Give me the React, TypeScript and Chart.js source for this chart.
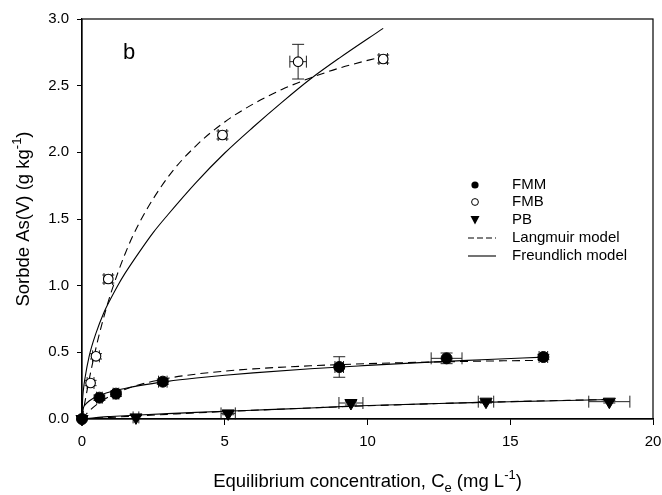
import React, { useEffect, useRef } from "react";
import { Chart, registerables } from "chart.js";
Chart.register(...registerables);

// ---- axis ticks ----
const xTickValues = [0, 5, 10, 15, 20];
const yTickValues = [0, 0.5, 1.0, 1.5, 2.0, 2.5, 3.0];

// ---- measured points ----
const fmmX = [0, 0.61, 1.19, 2.83, 9.01, 12.77, 16.16];
const fmmY = [0, 0.16, 0.19, 0.28, 0.39, 0.455, 0.465];
const fmmXErr = [0, 0.1, 0.1, 0.15, 0.15, 0.54, 0.15];
const fmmYErr = [0, 0.02, 0.02, 0.02, 0.077, 0.04, 0.02];

const fmbX = [0, 0.3, 0.49, 0.92, 4.92, 7.57, 10.55];
const fmbY = [0, 0.27, 0.47, 1.05, 2.13, 2.68, 2.7];
const fmbXErr = [0, 0.12, 0.12, 0.15, 0.15, 0.29, 0.15];
const fmbYErr = [0, 0.02, 0.02, 0.03, 0.03, 0.13, 0.03];

const pbX = [0, 1.89, 5.12, 9.42, 14.15, 18.47];
const pbY = [0, 0.012, 0.042, 0.12, 0.13, 0.13];
const pbXErr = [0, 0.1, 0.25, 0.42, 0.27, 0.72];
const pbYErr = [0, 0, 0.01, 0.015, 0.01, 0.01];

// ---- model curves ----
const fmbLangX = [0, 0.1, 0.25, 0.5, 0.75, 1, 1.5, 2, 3, 4, 5, 6, 7, 8, 9, 10.55];
const fmbLangY = [0, 0.124, 0.295, 0.543, 0.754, 0.936, 1.234, 1.468, 1.811, 2.051, 2.228, 2.363, 2.471, 2.558, 2.631, 2.72];
const fmbFreX = [0, 0.02, 0.05, 0.1, 0.25, 0.5, 0.75, 1, 1.25, 1.5, 2, 2.5, 3, 4, 5, 6, 7, 8, 9, 10.55];
const fmbFreY = [0, 0.14, 0.22, 0.3, 0.47, 0.65, 0.79, 0.9, 1.0, 1.09, 1.25, 1.4, 1.53, 1.775, 1.995, 2.19, 2.375, 2.55, 2.705, 2.93];

const fmmLangX = [0, 0.25, 0.5, 1, 1.5, 2, 3, 4, 5, 6, 8, 10, 12, 14, 16.2];
const fmmLangY = [0, 0.059, 0.106, 0.174, 0.222, 0.257, 0.305, 0.337, 0.359, 0.376, 0.399, 0.415, 0.426, 0.434, 0.44];
const fmmFreX = [0, 0.05, 0.1, 0.25, 0.5, 1, 1.5, 2, 3, 4, 5, 6, 8, 10, 12, 14, 16.2];
const fmmFreY = [0, 0.084, 0.103, 0.135, 0.166, 0.204, 0.229, 0.25, 0.282, 0.307, 0.328, 0.346, 0.377, 0.402, 0.425, 0.444, 0.464];

const pbLangX = [0, 0.5, 1, 2, 3, 4, 5, 6.5, 8, 9.5, 11, 12.5, 14, 15.5, 17, 18.5];
const pbLangY = [0, 0.006, 0.012, 0.024, 0.035, 0.046, 0.056, 0.07, 0.083, 0.095, 0.106, 0.116, 0.125, 0.133, 0.14, 0.147];
const pbFreX = [0, 0.5, 1, 2, 3, 4, 5, 6.5, 8, 9.5, 11, 12.5, 14, 15.5, 17, 18.5];
const pbFreY = [0, 0.0115, 0.0187, 0.0304, 0.0406, 0.0495, 0.058, 0.07, 0.082, 0.097, 0.107, 0.116, 0.125, 0.132, 0.139, 0.146];

const legendLabels = ["FMM", "FMB", "PB", "Langmuir model", "Freundlich model"];
const panelLabel = "b";

const FONT = "'Liberation Sans', Arial, sans-serif";

const pts = (xs: number[], ys: number[]) => xs.map((x, i) => ({ x, y: ys[i] }));

const curve = (xs: number[], ys: number[], dashed: boolean) => ({
  type: "line" as const,
  data: pts(xs, ys),
  borderColor: "#000",
  borderWidth: 1.1,
  borderDash: dashed ? [8, 5] : [],
  pointRadius: 0,
  fill: false,
  tension: 0,
  cubicInterpolationMode: "monotone" as const,
  showLine: true,
  order: 5,
});

export default function App() {
  const ref = useRef<HTMLCanvasElement>(null);

  useEffect(() => {
    document.body.style.margin = "0";
    const canvas = ref.current!;

    const errorBars = {
      id: "errorBars",
      beforeDatasetsDraw(chart: any) {
        const { ctx } = chart;
        const xs = chart.scales.x;
        const ys = chart.scales.y;
        ctx.save();
        ctx.strokeStyle = "#222";
        ctx.lineWidth = 1;
        chart.data.datasets.forEach((ds: any) => {
          if (!ds.errX) return;
          ds.data.forEach((p: any, i: number) => {
            const ex = ds.errX[i];
            const ey = ds.errY[i];
            const cx = xs.getPixelForValue(p.x);
            const cy = ys.getPixelForValue(p.y);
            const cap = 6;
            if (ey > 0) {
              const t = ys.getPixelForValue(p.y + ey);
              const b = ys.getPixelForValue(p.y - ey);
              ctx.beginPath();
              ctx.moveTo(cx, t); ctx.lineTo(cx, b);
              ctx.moveTo(cx - cap, t); ctx.lineTo(cx + cap, t);
              ctx.moveTo(cx - cap, b); ctx.lineTo(cx + cap, b);
              ctx.stroke();
            }
            if (ex > 0) {
              const l = xs.getPixelForValue(p.x - ex);
              const r = xs.getPixelForValue(p.x + ex);
              ctx.beginPath();
              ctx.moveTo(l, cy); ctx.lineTo(r, cy);
              ctx.moveTo(l, cy - cap); ctx.lineTo(l, cy + cap);
              ctx.moveTo(r, cy - cap); ctx.lineTo(r, cy + cap);
              ctx.stroke();
            }
          });
        });
        ctx.restore();
      },
    };

    const drawRich = (ctx: CanvasRenderingContext2D, parts: { t: string; k: "n" | "sub" | "sup" }[], size: number, cx: number, cy: number) => {
      const small = Math.round(size * 0.68);
      const widths = parts.map((p) => {
        ctx.font = `${p.k === "n" ? size : small}px ${FONT}`;
        return ctx.measureText(p.t).width;
      });
      const total = widths.reduce((a, b) => a + b, 0);
      let x = cx - total / 2;
      ctx.textBaseline = "middle";
      ctx.textAlign = "left";
      parts.forEach((p, i) => {
        ctx.font = `${p.k === "n" ? size : small}px ${FONT}`;
        const dy = p.k === "sub" ? size * 0.35 : p.k === "sup" ? -size * 0.38 : 0;
        ctx.fillText(p.t, x, cy + dy);
        x += widths[i];
      });
    };

    const decor = {
      id: "decor",
      afterDraw(chart: any) {
        const { ctx, chartArea: a } = chart;
        ctx.save();
        // frame
        ctx.strokeStyle = "#000";
        ctx.lineWidth = 1.2;
        ctx.strokeRect(a.left, a.top, a.right - a.left, a.bottom - a.top);
        ctx.fillStyle = "#000";
        // x title
        drawRich(ctx, [
          { t: "Equilibrium concentration, C", k: "n" },
          { t: "e", k: "sub" },
          { t: " (mg L", k: "n" },
          { t: "-1", k: "sup" },
          { t: ")", k: "n" },
        ], 18.5, (a.left + a.right) / 2, 482);
        // y title
        ctx.save();
        ctx.translate(24, (a.top + a.bottom) / 2);
        ctx.rotate(-Math.PI / 2);
        drawRich(ctx, [
          { t: "Sorbde As(V) (g kg", k: "n" },
          { t: "-1", k: "sup" },
          { t: ")", k: "n" },
        ], 18.5, 0, 0);
        ctx.restore();
        // panel label
        ctx.font = `22px ${FONT}`;
        ctx.textAlign = "left";
        ctx.textBaseline = "alphabetic";
        ctx.fillText(panelLabel, 123, 59);
        // legend
        const mx = 475;
        const tx = 512;
        const rows = [185, 202, 220, 238, 256];
        ctx.font = `15px ${FONT}`;
        ctx.textBaseline = "middle";
        rows.forEach((ry, i) => {
          ctx.fillStyle = "#000";
          ctx.fillText(legendLabels[i], tx, ry);
        });
        // markers
        ctx.lineWidth = 1;
        ctx.beginPath(); ctx.arc(mx, rows[0], 3.6, 0, Math.PI * 2); ctx.fill();
        ctx.beginPath(); ctx.arc(mx, rows[1], 3.4, 0, Math.PI * 2);
        ctx.fillStyle = "#fff"; ctx.fill(); ctx.strokeStyle = "#000"; ctx.stroke();
        ctx.fillStyle = "#000";
        ctx.beginPath();
        ctx.moveTo(mx - 4.5, rows[2] - 4);
        ctx.lineTo(mx + 4.5, rows[2] - 4);
        ctx.lineTo(mx, rows[2] + 4.5);
        ctx.closePath(); ctx.fill();
        ctx.lineWidth = 1.1;
        ctx.setLineDash([6, 3]);
        ctx.beginPath(); ctx.moveTo(468, rows[3]); ctx.lineTo(496, rows[3]); ctx.stroke();
        ctx.setLineDash([]);
        ctx.beginPath(); ctx.moveTo(468, rows[4]); ctx.lineTo(496, rows[4]); ctx.stroke();
        ctx.restore();
      },
    };

    const chart = new Chart(canvas, {
      type: "scatter",
      data: {
        datasets: [
          {
            label: legendLabels[0],
            data: pts(fmmX, fmmY),
            errX: fmmXErr, errY: fmmYErr,
            pointStyle: "circle", pointRadius: 5.5,
            backgroundColor: "#000", borderColor: "#000", borderWidth: 1,
            clip: false, order: 1,
          } as any,
          {
            label: legendLabels[1],
            data: pts(fmbX, fmbY),
            errX: fmbXErr, errY: fmbYErr,
            pointStyle: "circle", pointRadius: 4.8,
            backgroundColor: "#fff", borderColor: "#000", borderWidth: 1.1,
            clip: false, order: 2,
          } as any,
          {
            label: legendLabels[2],
            data: pts(pbX, pbY),
            errX: pbXErr, errY: pbYErr,
            pointStyle: "triangle", pointRotation: 180, pointRadius: 7,
            backgroundColor: "#000", borderColor: "#000", borderWidth: 1,
            clip: false, order: 0,
          } as any,
          { label: "fmbL", ...curve(fmbLangX, fmbLangY, true) } as any,
          { label: "fmbF", ...curve(fmbFreX, fmbFreY, false) } as any,
          { label: "fmmL", ...curve(fmmLangX, fmmLangY, true) } as any,
          { label: "fmmF", ...curve(fmmFreX, fmmFreY, false) } as any,
          { label: "pbL", ...curve(pbLangX, pbLangY, true) } as any,
          { label: "pbF", ...curve(pbFreX, pbFreY, false) } as any,
        ],
      },
      options: {
        responsive: false,
        animation: false,
        devicePixelRatio: 1,
        layout: { padding: { top: 19, right: 9, left: 0, bottom: 0 } },
        plugins: { legend: { display: false }, tooltip: { enabled: false }, title: { display: false } },
        scales: {
          x: {
            type: "linear",
            min: 0, max: 20,
            afterFit: (s: any) => { s.height = 76; s.paddingLeft = 0; s.paddingRight = 0; },
            afterBuildTicks: (s: any) => { s.ticks = xTickValues.map((v) => ({ value: v })); },
            ticks: { color: "#000", font: { size: 15, family: FONT }, padding: 8, callback: (v: any) => String(v) },
            grid: { drawOnChartArea: false, drawTicks: true, tickLength: 6, color: "#000", lineWidth: 1 },
            border: { display: true, color: "#000", width: 1.2 },
          },
          y: {
            type: "linear",
            min: 0, max: 3,
            afterFit: (s: any) => { s.width = 82; s.paddingTop = 0; s.paddingBottom = 0; },
            afterBuildTicks: (s: any) => { s.ticks = yTickValues.map((v) => ({ value: v })); },
            ticks: { color: "#000", font: { size: 15, family: FONT }, padding: 8, callback: (v: any) => Number(v).toFixed(1) },
            grid: { drawOnChartArea: false, drawTicks: true, tickLength: 5, color: "#000", lineWidth: 1 },
            border: { display: true, color: "#000", width: 1.2 },
          },
        },
      } as any,
      plugins: [errorBars, decor],
    });
    return () => chart.destroy();
  }, []);

  return <canvas ref={ref} width={662} height={495} style={{ display: "block", width: 662, height: 495 }} />;
}
